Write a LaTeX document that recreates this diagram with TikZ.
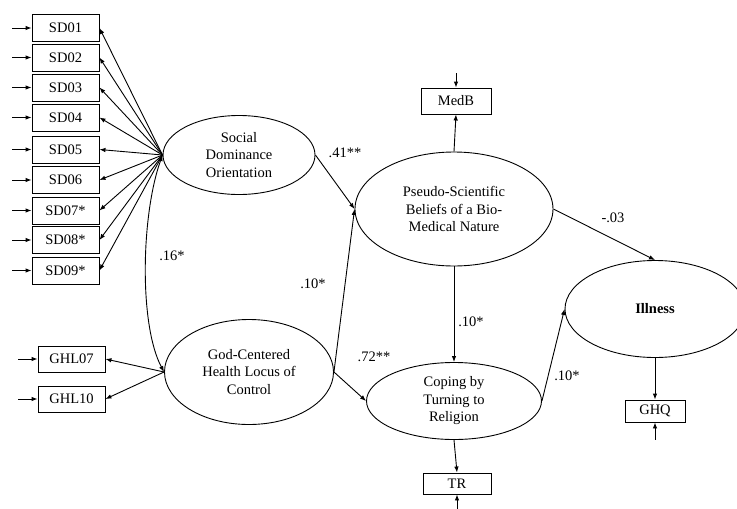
\documentclass[tikz,border=0pt]{standalone}
\usepackage{fontspec}
\setmainfont{Liberation Serif}
\usepackage{tikz}
\usetikzlibrary{arrows.meta, shapes.geometric}

\begin{document}
\begin{tikzpicture}[x=1pt, y=-1pt, line width=0.9pt, >={Latex[length=6pt,width=4.5pt]},
  font=\fontsize{14.5}{17.5}\selectfont,
  obs/.style={draw, rectangle, inner sep=0pt},
  latent/.style={draw, ellipse, inner sep=0pt, align=center},
  lbl/.style={inner sep=0pt}]
\useasboundingbox (0,0) rectangle (737,509);
% Define the box sizes
\pgfmathsetmacro{\bw}{67}
\pgfmathsetmacro{\bh}{27}
\pgfmathsetmacro{\tail}{20}

% Draw latent variables
\node[latent, minimum width=152, minimum height=79] (sdo) at (239,155) {Social\\Dominance\\Orientation};
\node[latent, minimum width=169, minimum height=105] (ghlc) at (249,372) {God-Centered\\Health Locus of\\Control};
\node[latent, minimum width=198, minimum height=114] (psb) at (454,209) {Pseudo-Scientific\\Beliefs of a Bio-\\Medical Nature};
\node[latent, minimum width=175, minimum height=77] (ctr) at (454,401) {Coping by\\Turning to\\Religion};
\node[latent, minimum width=180, minimum height=97] (ill) at (655,309) {\textbf{Illness}};

% Draw SD indicators
\node[obs, minimum width=\bw, minimum height=\bh] (sd1) at (65.5,28) {SD01};
\node[obs, minimum width=\bw, minimum height=\bh] (sd2) at (65.5,57.5) {SD02};
\node[obs, minimum width=\bw, minimum height=\bh] (sd3) at (65.5,87.5) {SD03};
\node[obs, minimum width=\bw, minimum height=\bh] (sd4) at (65.5,117.5) {SD04};
\node[obs, minimum width=\bw, minimum height=\bh] (sd5) at (65.5,149.5) {SD05};
\node[obs, minimum width=\bw, minimum height=\bh] (sd6) at (65.5,180) {SD06};
\node[obs, minimum width=\bw, minimum height=\bh] (sd7) at (65.5,210.5) {SD07*};
\node[obs, minimum width=\bw, minimum height=\bh] (sd8) at (65.5,240) {SD08*};
\node[obs, minimum width=\bw, minimum height=\bh] (sd9) at (65.5,270.5) {SD09*};
% Draw GHL indicators
\node[obs, minimum width=\bw, minimum height=26] (ghl7) at (71.5,359) {GHL07};
\node[obs, minimum width=\bw, minimum height=26] (ghl10) at (71.5,399) {GHL10};
% Draw single indicators
\node[obs, minimum width=70, minimum height=26] (medb) at (456,101) {MedB};
\node[obs, minimum width=68, minimum height=21] (tr) at (457,483.5) {TR};
\node[obs, minimum width=60, minimum height=22] (ghq) at (655,411) {GHQ};

% Error terms
\draw[<-] (sd1.west) -- ++(-\tail,0);
\draw[<-] (sd2.west) -- ++(-\tail,0);
\draw[<-] (sd3.west) -- ++(-\tail,0);
\draw[<-] (sd4.west) -- ++(-\tail,0);
\draw[<-] (sd5.west) -- ++(-\tail,0);
\draw[<-] (sd6.west) -- ++(-\tail,0);
\draw[<-] (sd7.west) -- ++(-\tail,0);
\draw[<-] (sd8.west) -- ++(-\tail,0);
\draw[<-] (sd9.west) -- ++(-\tail,0);
\draw[<-] (ghl7.west) -- ++(-\tail,0);
\draw[<-] (ghl10.west) -- ++(-\tail,0);
\draw[<-] (medb.north) -- ++(0,-15);
\draw[<-] (ghq.south) -- ++(0,18);
\draw[<-] (tr.south) -- ++(0,16);

% Loadings
\draw[->] (sdo.west) -- (sd1.east);
\draw[->] (sdo.west) -- (sd2.east);
\draw[->] (sdo.west) -- (sd3.east);
\draw[->] (sdo.west) -- (sd4.east);
\draw[->] (sdo.west) -- (sd5.east);
\draw[->] (sdo.west) -- (sd6.east);
\draw[->] (sdo.west) -- (sd7.east);
\draw[->] (sdo.west) -- (sd8.east);
\draw[->] (sdo.west) -- (sd9.east);
\draw[->] (ghlc.west) -- (ghl7.east);
\draw[->] (ghlc.west) -- (ghl10.east);
\draw[->] (psb.north) -- (medb.south);
\draw[->] (ctr.south) -- (tr.north);
\draw[->] (ill.south) -- (ghq.north);

% Covariance
\draw[<->] (sdo.west) .. controls (141,215) and (139,325) .. (ghlc.west);
\node[lbl] (c16) at (172,256) {.16*};

% Structural paths
\draw[->] (sdo.east) -- (psb.west);
\draw[->] (ghlc.east) -- (psb.west);
\draw[->] (ghlc.east) -- (ctr.west);
\draw[->] (psb.south) -- (ctr.north);
\draw[->] (psb.east) -- (ill.north);
\draw[->] (ctr.east) -- (ill.west);
\node[lbl] (p41) at (345,153) {.41**};
\node[lbl] (p10a) at (313,284) {.10*};
\node[lbl] (p72) at (374,357) {.72**};
\node[lbl] (p10b) at (471,322) {.10*};
\node[lbl] (p03) at (613,218) {-.03};
\node[lbl] (p10c) at (567,376) {.10*};

\end{tikzpicture}
\end{document}
